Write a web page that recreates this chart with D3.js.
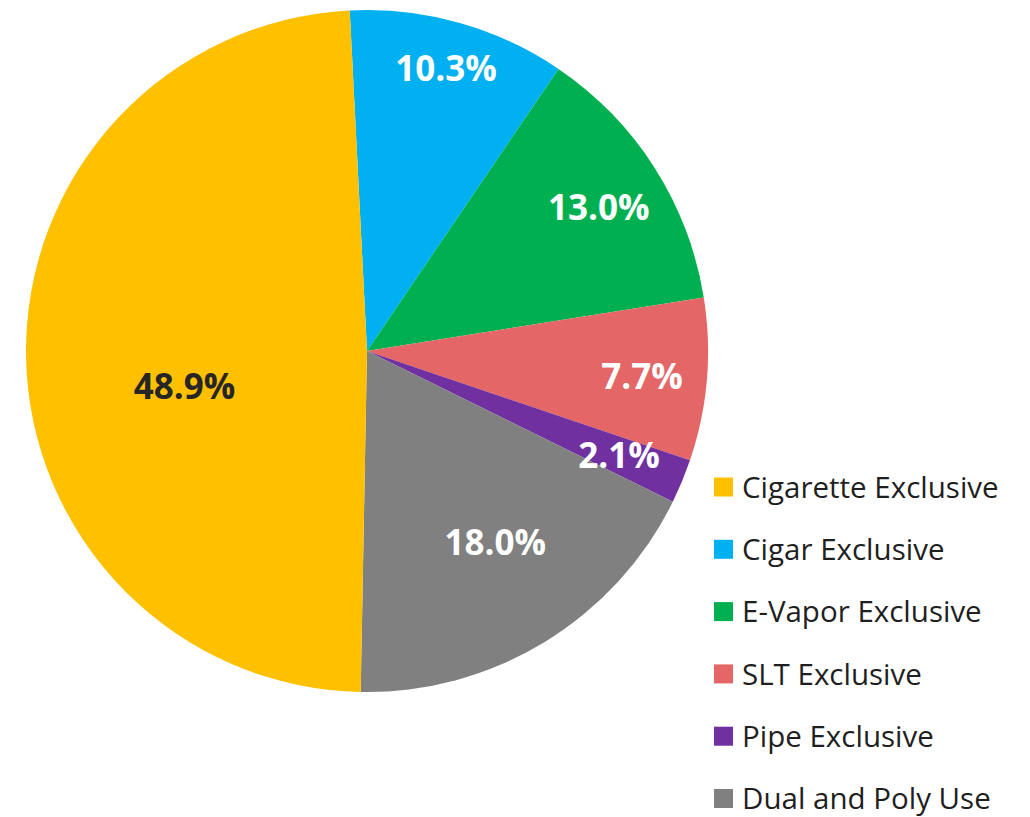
<!DOCTYPE html>
<html>
<head>
<meta charset="utf-8">
<script src="https://cdn.jsdelivr.net/npm/d3@7"></script>
<style>
  html, body { margin: 0; padding: 0; background: #ffffff; }
  svg { display: block; }
</style>
</head>
<body>
<svg id="chart" width="1030" height="817"></svg>
<script>
// Share of exclusive tobacco product users (percent)
const categories = ["Cigarette Exclusive", "Cigar Exclusive", "E-Vapor Exclusive", "SLT Exclusive", "Pipe Exclusive", "Dual and Poly Use"];
const values = [48.9, 10.3, 13.0, 7.7, 2.1, 18.0];
const labels = ["48.9%", "10.3%", "13.0%", "7.7%", "2.1%", "18.0%"];

// Slice draw order around the pie, starting just left of 12 o'clock
const sliceOrder = [1, 2, 3, 4, 5, 0];

const colors = ["#FFC000", "#00B0F0", "#00B050", "#E46666", "#7030A0", "#808080"];
const labelColors = ["#262626", "#ffffff", "#ffffff", "#ffffff", "#ffffff", "#ffffff"];
// Label placement: radius as a fraction of the pie radius, plus an angular nudge (degrees)
const labelRadius = [0.545, 0.86, 0.80, 0.81, 0.80, 0.675];
const labelNudge = [-10, 0, 0.6, 0.5, 0, -2.5];

const svg = d3.select("#chart");
const cx = 367, cy = 351, R = 341;
const startDeg = -2.9;
const rad = d => d * Math.PI / 180;

const pie = d3.pie()
  .sort(null)
  .value(i => values[i])
  .startAngle(rad(startDeg))
  .endAngle(rad(startDeg + 360));

const arcs = pie(sliceOrder);
const arc = d3.arc().innerRadius(0).outerRadius(R);

const g = svg.append("g").attr("transform", `translate(${cx},${cy})`);

g.selectAll("path.slice")
  .data(arcs)
  .join("path")
  .attr("class", "slice")
  .attr("d", arc)
  .attr("fill", d => colors[d.data]);

g.selectAll("text.pct")
  .data(arcs)
  .join("text")
  .attr("class", "pct")
  .attr("x", d => {
    const a = (d.startAngle + d.endAngle) / 2 + rad(labelNudge[d.data]);
    return Math.sin(a) * R * labelRadius[d.data];
  })
  .attr("y", d => {
    const a = (d.startAngle + d.endAngle) / 2 + rad(labelNudge[d.data]);
    return -Math.cos(a) * R * labelRadius[d.data];
  })
  .attr("dy", "0.36em")
  .attr("text-anchor", "middle")
  .attr("font-family", "'Open Sans', sans-serif")
  .attr("font-weight", "bold")
  .attr("font-size", 35)
  .attr("fill", d => labelColors[d.data])
  .text(d => labels[d.data]);

// Legend
const legend = svg.append("g").attr("transform", "translate(714,487)");
const rowGap = 62.3;
const rows = legend.selectAll("g.row")
  .data(categories.map((c, i) => i))
  .join("g")
  .attr("class", "row")
  .attr("transform", i => `translate(0,${i * rowGap})`);

rows.append("rect")
  .attr("x", 0).attr("y", -9.5)
  .attr("width", 19).attr("height", 19)
  .attr("fill", i => colors[i]);

rows.append("text")
  .attr("x", 28)
  .attr("y", 0)
  .attr("dy", "0.36em")
  .attr("font-family", "'Open Sans', sans-serif")
  .attr("font-size", 29.5)
  .attr("fill", "#1f1f1f")
  .text(i => categories[i]);
</script>
</body>
</html>
